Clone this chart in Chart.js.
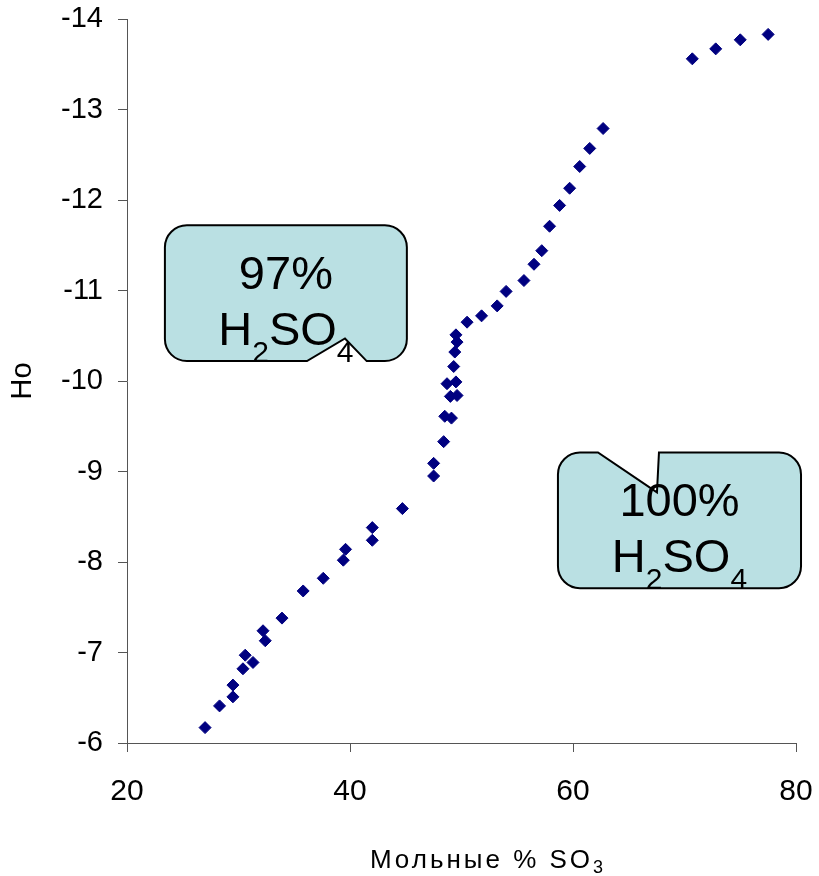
<!DOCTYPE html>
<html>
<head>
<meta charset="utf-8">
<script src="https://cdn.jsdelivr.net/npm/chart.js@4/dist/chart.umd.min.js"></script>
<style>
  body { margin: 0; background: #fff; }
  #wrap { width: 819px; height: 876px; }
</style>
</head>
<body>
<div id="wrap"><canvas id="hoChart" width="819" height="876"></canvas></div>
<script>
'use strict';

// ====== DATA ======
const molPercentSO3 = [
    27.0, 28.3, 29.5, 29.5, 30.4, 30.6, 31.3, 32.2, 32.4, 33.9,
    35.8, 37.6, 39.4, 39.6, 42.0, 42.0, 44.7, 47.5, 47.5, 48.4,
    48.5, 49.1, 49.0, 49.6, 48.7, 49.5, 49.3, 49.4, 49.6, 49.5,
    50.5, 51.8, 53.2, 54.0, 55.6, 56.5, 57.2, 57.9, 58.8, 59.7,
    60.6, 61.5, 62.7, 70.7, 72.8, 75.0, 77.5
];
const hoValues = [
    -6.17, -6.41, -6.51, -6.64, -6.82, -6.97, -6.89, -7.24, -7.13, -7.38,
    -7.68, -7.82, -8.02, -8.14, -8.24, -8.38, -8.59, -8.95, -9.09, -9.33,
    -9.61, -9.59, -9.83, -9.84, -9.97, -9.99, -10.16, -10.32, -10.43, -10.51,
    -10.65, -10.72, -10.83, -10.99, -11.11, -11.29, -11.44, -11.71, -11.94, -12.13,
    -12.37, -12.57, -12.79, -13.56, -13.67, -13.77, -13.83
];
const xTicks = [20, 40, 60, 80];
const yTicks = [-14, -13, -12, -11, -10, -9, -8, -7, -6];

// callout boxes, in data units: [left, top, right, bottom], notch [x1, tipX, tipY, x2]
const calloutLabels = ['97%', '100%'];
const calloutBoxes = [[23.4, -11.72, 45.1, -10.22], [58.65, -9.21, 80.45, -7.71]];
const calloutNotches = [[41.5, 39.55, -10.47, 36.14], [62.24, 67.53, -8.77, 67.71]];
const calloutNotchSide = ['bottom', 'top'];

const FONT = '"Liberation Sans", Arial, sans-serif';

// ====== CALLOUT PLUGIN ======
const calloutPlugin = {
    id: 'callouts',
    afterDraw(chart) {
        const ctx = chart.ctx;
        const xs = chart.scales.x, ys = chart.scales.y;
        const r = 22;
        ctx.save();
        calloutBoxes.forEach((b, i) => {
            const L = xs.getPixelForValue(b[0]), T = ys.getPixelForValue(b[1]);
            const R = xs.getPixelForValue(b[2]), B = ys.getPixelForValue(b[3]);
            const n = calloutNotches[i];
            const n1 = xs.getPixelForValue(n[0]), tx = xs.getPixelForValue(n[1]);
            const ty = ys.getPixelForValue(n[2]), n2 = xs.getPixelForValue(n[3]);

            ctx.beginPath();
            ctx.moveTo(L + r, T);
            if (calloutNotchSide[i] === 'top') {
                ctx.lineTo(n1, T); ctx.lineTo(tx, ty); ctx.lineTo(n2, T);
            }
            ctx.lineTo(R - r, T);
            ctx.arcTo(R, T, R, T + r, r);
            ctx.lineTo(R, B - r);
            ctx.arcTo(R, B, R - r, B, r);
            if (calloutNotchSide[i] === 'bottom') {
                ctx.lineTo(n1, B); ctx.lineTo(tx, ty); ctx.lineTo(n2, B);
            }
            ctx.lineTo(L + r, B);
            ctx.arcTo(L, B, L, B - r, r);
            ctx.lineTo(L, T + r);
            ctx.arcTo(L, T, L + r, T, r);
            ctx.closePath();
            ctx.fillStyle = '#bae0e3';
            ctx.fill();
            ctx.lineWidth = 2;
            ctx.strokeStyle = '#000';
            ctx.stroke();

            // text
            const cx = (L + R) / 2;
            const big = '47px ' + FONT;
            const small = '30px ' + FONT;
            ctx.fillStyle = '#000';
            ctx.textBaseline = 'alphabetic';
            ctx.textAlign = 'center';
            ctx.font = big;
            ctx.fillText(calloutLabels[i], cx, T + 64);

            const parts = [['H', big, 0], ['2', small, 17], ['SO', big, 0], ['4', small, 17]];
            let total = 0;
            parts.forEach(p => { ctx.font = p[1]; total += ctx.measureText(p[0]).width; });
            let x = cx - total / 2;
            ctx.textAlign = 'left';
            parts.forEach(p => {
                ctx.font = p[1];
                ctx.fillText(p[0], x, T + 120 + p[2]);
                x += ctx.measureText(p[0]).width;
            });
        });

        // x axis title with subscript
        const titleFont = '26px ' + FONT;
        const subFont = '18px ' + FONT;
        ctx.letterSpacing = '3px';
        ctx.font = titleFont;
        const main = 'Мольные % SO';
        const w1 = ctx.measureText(main).width;
        ctx.font = subFont;
        const w2 = ctx.measureText('3').width;
        const tx0 = 488 - (w1 + w2) / 2;
        ctx.textAlign = 'left';
        ctx.font = titleFont;
        ctx.fillText(main, tx0, 868);
        ctx.font = subFont;
        ctx.fillText('3', tx0 + w1, 873);
        ctx.restore();
    }
};

// ====== CHART ======
const ctx = document.getElementById('hoChart').getContext('2d');
new Chart(ctx, {
    type: 'scatter',
    data: {
        datasets: [{
            data: molPercentSO3.map((x, i) => ({ x, y: hoValues[i] })),
            pointStyle: 'rectRot',
            pointRadius: 6,
            backgroundColor: '#000080',
            borderColor: '#000080',
            borderWidth: 1
        }]
    },
    options: {
        responsive: false,
        animation: false,
        layout: { padding: { top: 19, right: 23, left: 0, bottom: 0 } },
        plugins: { legend: { display: false }, tooltip: { enabled: false } },
        scales: {
            x: {
                type: 'linear',
                min: 20, max: 80,
                afterBuildTicks: s => { s.ticks = xTicks.map(v => ({ value: v })); },
                afterFit: s => { s.height = 133; s.paddingLeft = 0; s.paddingRight = 0; },
                grid: { drawOnChartArea: false, drawTicks: true, tickLength: 9, color: '#555' },
                border: { display: true, color: '#555', width: 1 },
                ticks: {
                    color: '#000', padding: 22,
                    font: { family: FONT, size: 30 }
                }
            },
            y: {
                type: 'linear',
                min: -14, max: -6, reverse: true,
                afterBuildTicks: s => { s.ticks = yTicks.map(v => ({ value: v })); },
                afterFit: s => { s.width = 127; s.paddingTop = 0; s.paddingBottom = 0; },
                grid: { drawOnChartArea: false, drawTicks: true, tickLength: 9, color: '#555' },
                border: { display: true, color: '#555', width: 1 },
                ticks: {
                    color: '#000', padding: 15,
                    font: { family: FONT, size: 29 }
                },
                title: {
                    display: true, text: 'Ho', color: '#000',
                    font: { family: FONT, size: 29 },
                    padding: { top: 6, bottom: 0 }
                }
            }
        }
    },
    plugins: [calloutPlugin]
});
</script>
</body>
</html>
